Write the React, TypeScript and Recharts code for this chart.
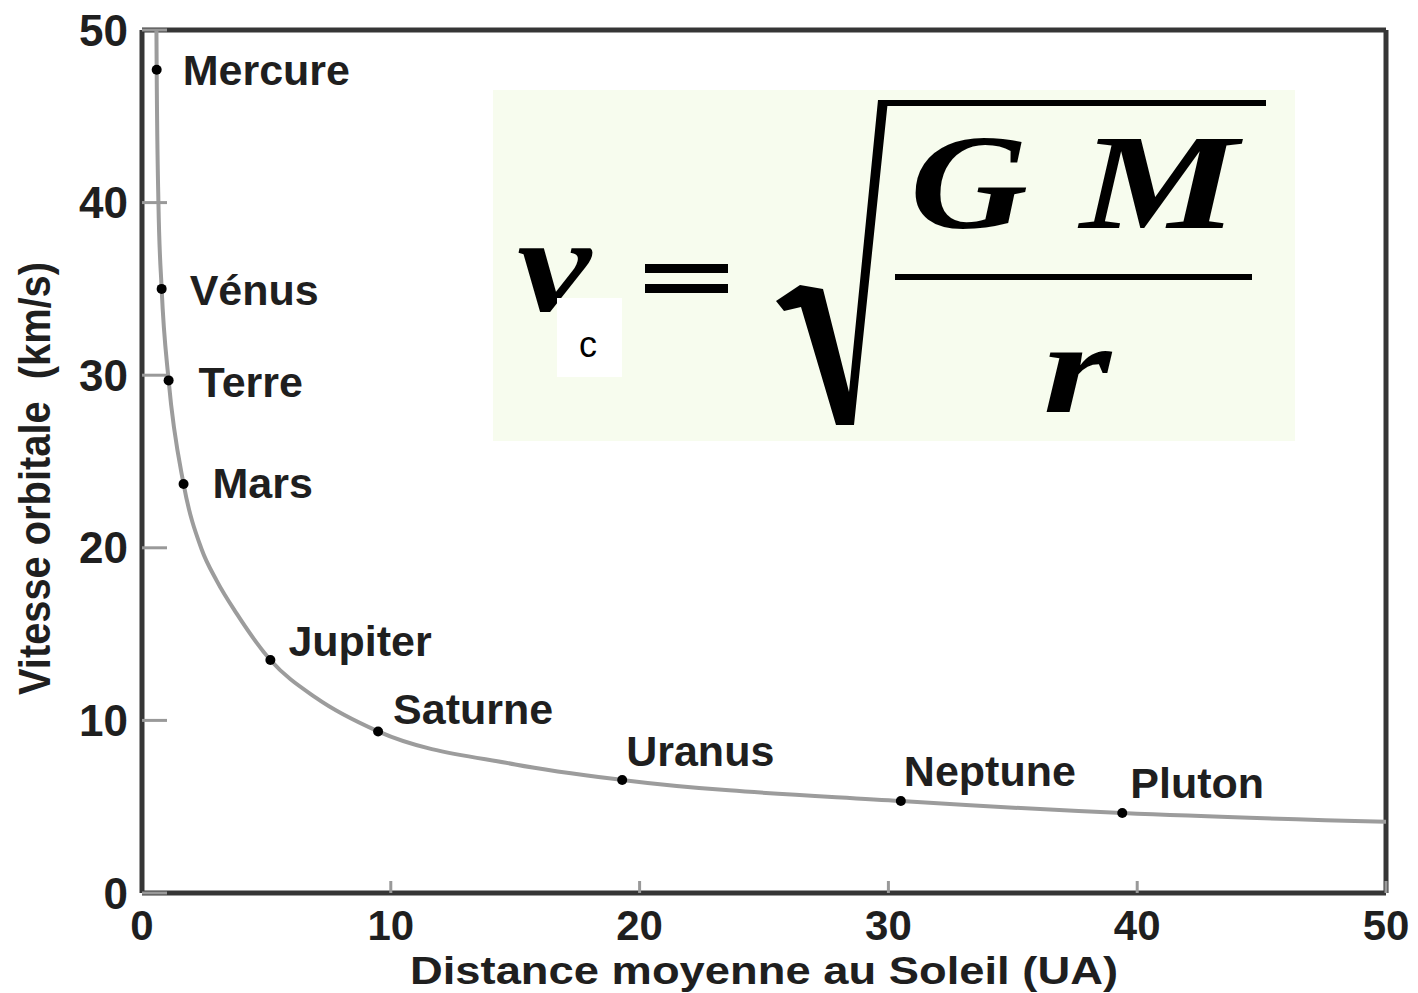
import React from 'react';
import {
  ComposedChart,
  Line,
  Scatter,
  XAxis,
  YAxis,
  ReferenceLine,
} from 'recharts';

// Planètes : distance moyenne (UA) et vitesse orbitale (km/s)
const planetNames = ['Mercure', 'Vénus', 'Terre', 'Mars', 'Jupiter', 'Saturne', 'Uranus', 'Neptune', 'Pluton'];
const planetDistance = [0.59, 0.79, 1.07, 1.67, 5.16, 9.49, 19.3, 30.5, 39.4];
const planetSpeed = [47.7, 35.0, 29.7, 23.7, 13.5, 9.36, 6.55, 5.33, 4.63];

// Courbe lissée passant par les planètes
const curveDistance = [0.58, 0.59, 0.66, 0.79, 1.07, 1.67, 2.4, 3.0, 3.8, 5.16, 7.0, 9.49, 15.0, 19.3, 30.5, 39.4, 50];
const curveSpeed = [50, 47.7, 40, 35.0, 29.7, 23.7, 19.9, 18.1, 16.2, 13.5, 11.3, 9.36, 7.45, 6.55, 5.33, 4.63, 4.13];

const xTicks = [0, 10, 20, 30, 40, 50];
const yTicks = [0, 10, 20, 30, 40, 50];

// décalage des étiquettes par rapport au point (px)
const labelOffsets: Record<string, [number, number]> = {
  Mercure: [26, 0],
  'Vénus': [28, 1],
  Terre: [30, 1],
  Mars: [29, -1],
  Jupiter: [18, -19],
  Saturne: [15, -23],
  Uranus: [4, -29],
  Neptune: [3, -30],
  Pluton: [8, -31],
};

const FONT = '"Liberation Sans", Arial, Helvetica, sans-serif';
const SERIF = '"Liberation Serif", "Times New Roman", serif';
const INK = '#1f1f1f';
const AXIS = '#363636';

const planets = planetNames.map((name, i) => ({
  name,
  distance: planetDistance[i],
  speed: planetSpeed[i],
}));

const curve = curveDistance.map((d, i) => ({ distance: d, speed: curveSpeed[i] }));

function PlanetDot(props: any) {
  const { cx, cy, payload } = props;
  const [dx, dy] = labelOffsets[payload.name] || [20, 0];
  return (
    <g>
      <circle cx={cx} cy={cy} r={5} fill="#000" />
      <text
        x={cx + dx}
        y={cy + dy}
        dy="0.36em"
        fontFamily={FONT}
        fontWeight={700}
        fontSize={43}
        fill={INK}
      >
        {payload.name}
      </text>
    </g>
  );
}

function XTitle(props: any) {
  const { viewBox } = props;
  return (
    <text
      x={viewBox.x + viewBox.width / 2}
      y={viewBox.y + 91}
      textAnchor="middle"
      fontFamily={FONT}
      fontWeight={700}
      fontSize={39}
      fill={INK}
      textLength={708}
      lengthAdjust="spacingAndGlyphs"
    >
      Distance moyenne au Soleil (UA)
    </text>
  );
}

function YTitle(props: any) {
  const { viewBox } = props;
  const cy = viewBox.y + viewBox.height / 2 + 17;
  return (
    <text
      x={50}
      y={cy}
      transform={`rotate(-90 50 ${cy})`}
      textAnchor="middle"
      fontFamily={FONT}
      fontWeight={700}
      fontSize={44}
      fill={INK}
      textLength={433}
      lengthAdjust="spacingAndGlyphs"
    >
      {'Vitesse orbitale\u00a0\u00a0(km/s)'}
    </text>
  );
}

// encadré avec la formule v_c = sqrt(GM / r)
function Formula() {
  const math = {
    fontFamily: SERIF,
    fontStyle: 'italic' as const,
    fontWeight: 700,
    fill: '#000',
  };
  return (
    <svg
      width={1418}
      height={993}
      style={{ position: 'absolute', left: 0, top: 0, pointerEvents: 'none' }}
    >
      <rect x={493} y={90} width={802} height={351} fill="#f7fcee" />
      <text x={517} y={311} fontSize={136} textLength={74} lengthAdjust="spacingAndGlyphs" {...math}>
        v
      </text>
      <rect x={557} y={298} width={65} height={79} fill="#fff" />
      <text x={588} y={357} textAnchor="middle" fontFamily={FONT} fontSize={36} fill="#000">
        c
      </text>
      <rect x={645} y={264} width={83} height={9} fill="#000" />
      <rect x={645} y={284} width={83} height={9} fill="#000" />
      <path
        d="M776,301 L800,285 L823,289 L849,392 L878,100 L888,100 L854,425 L836,425 L801,307 L784,311 Z"
        fill="#000"
      />
      <rect x={880} y={100} width={386} height={6} fill="#000" />
      <text x={910} y={228} fontSize={136} textLength={118} lengthAdjust="spacingAndGlyphs" {...math}>
        G
      </text>
      <text x={1080} y={228} fontSize={136} textLength={158} lengthAdjust="spacingAndGlyphs" {...math}>
        M
      </text>
      <rect x={895} y={274} width={357} height={6} fill="#000" />
      <text x={1043} y={412} fontSize={130} textLength={68} lengthAdjust="spacingAndGlyphs" {...math}>
        r
      </text>
    </svg>
  );
}

export default function App() {
  const xTickStyle = { fontSize: 42, fontWeight: 700, fill: INK, fontFamily: FONT };
  const yTickStyle = { fontSize: 44, fontWeight: 700, fill: INK, fontFamily: FONT };
  return (
    <div style={{ position: 'absolute', left: 0, top: 0, width: 1418, height: 993, background: '#fff' }}>
      <ComposedChart width={1418} height={993} margin={{ top: 30, right: 32, bottom: 0, left: 0 }}>
        <XAxis
          type="number"
          dataKey="distance"
          domain={[0, 50]}
          ticks={xTicks}
          allowDataOverflow
          height={100}
          axisLine={{ stroke: AXIS, strokeWidth: 5 }}
          tickLine={{ stroke: '#999', strokeWidth: 3 }}
          tickSize={-12}
          tickMargin={29}
          tick={xTickStyle}
          label={{ content: <XTitle /> }}
        />
        <YAxis
          type="number"
          dataKey="speed"
          domain={[0, 50]}
          ticks={yTicks}
          allowDataOverflow
          width={142}
          axisLine={{ stroke: AXIS, strokeWidth: 5 }}
          tickLine={{ stroke: '#999', strokeWidth: 3 }}
          tickSize={-25}
          tickMargin={39}
          tick={yTickStyle}
          label={{ content: <YTitle /> }}
        />
        <ReferenceLine y={50} stroke={AXIS} strokeWidth={5} />
        <ReferenceLine x={50} stroke={AXIS} strokeWidth={5} />
        <Line
          data={curve}
          dataKey="speed"
          type="monotone"
          stroke="#9c9c9c"
          strokeWidth={4}
          dot={false}
          activeDot={false}
          isAnimationActive={false}
        />
        <Scatter
          data={planets}
          dataKey="speed"
          shape={<PlanetDot />}
          isAnimationActive={false}
        />
      </ComposedChart>
      <Formula />
    </div>
  );
}
